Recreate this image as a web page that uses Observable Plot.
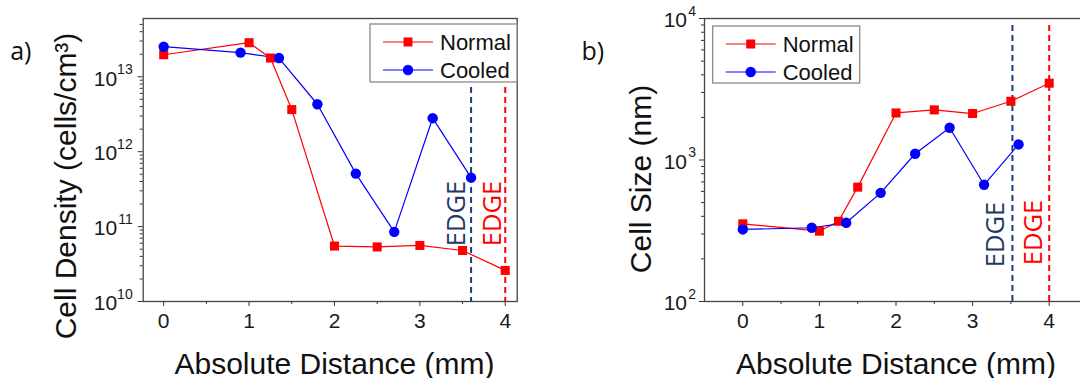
<!DOCTYPE html>
<html>
<head>
<meta charset="utf-8">
<script src="https://cdn.jsdelivr.net/npm/d3@7"></script>
<script src="https://cdn.jsdelivr.net/npm/@observablehq/plot@0.6"></script>
<style>
  html, body { margin: 0; padding: 0; background: #fff; }
  #wrap { position: relative; width: 1080px; height: 378px; overflow: hidden; }
  #wrap svg { position: absolute; top: 0; max-width: none !important; }
</style>
</head>
<body>
<div id="wrap"></div>
<script>
// Sampling positions (mm from centre)
const distNormal = [0, 1, 1.25, 1.5, 2, 2.5, 3, 3.5, 4];
const distCooled = [0, 0.9, 1.35, 1.8, 2.25, 2.7, 3.15, 3.6];

// Panel a) cell density (cells/cm^3)
const densityNormal = [1.97e13, 2.85e13, 1.78e13, 3.65e12, 5.5e10, 5.35e10, 5.6e10, 4.8e10, 2.6e10];
const densityCooled = [2.52e13, 2.1e13, 1.78e13, 4.3e12, 5.1e11, 8.5e10, 2.8e12, 4.5e11];

// Panel b) cell size (nm)
const sizeNormal = [354, 314, 369, 643, 2150, 2260, 2130, 2600, 3490];
const sizeCooled = [323, 332, 360, 586, 1107, 1690, 668, 1288];

// Sample edges (mm)
const edgeCooledA = 3.6, edgeNormalA = 4.0;
const edgeCooledB = 3.52, edgeNormalB = 4.0;

// Axis ticks and labels
const xTicks = [0, 1, 2, 3, 4];
const xTickLabels = ["0", "1", "2", "3", "4"];
const densityTicks = [1e10, 1e11, 1e12, 1e13];
const sizeTicks = [1e2, 1e3, 1e4];
const seriesNames = ["Normal", "Cooled"];
const xTitle = "Absolute Distance (mm)";
const yTitleA = "Cell Density (cells/cm³)";
const yTitleB = "Cell Size (nm)";

const RED = "#ff0000", BLUE = "#0000ff", NAVY = "#1f3a78", EDGE_NAVY = "#1f3864";
const AXIS = "#333333";
const SANS = "Liberation Sans, Arial, sans-serif";
const EDGE_FONT = "Open Sans, sans-serif";

const rows = (xs, ys) => xs.map((x, i) => ({x, y: ys[i]}));

function minorLogTicks(lo, hi) {
  const out = [];
  for (let e = Math.floor(Math.log10(lo)); e < Math.ceil(Math.log10(hi)); e++) {
    for (let k = 2; k <= 9; k++) {
      const v = k * 10 ** e;
      if (v > lo && v < hi) out.push(v);
    }
  }
  return out;
}

function panel(cfg) {
  const {width, marginLeft, marginRight, yDomain, xDomain, yTicks, normal, cooled,
         edges, yTitle, tag, expDx, baseDx, yTitleDx, yTitleDy, xTitleDx, minorX, edgeInset} = cfg;
  return Plot.plot({
    width, height: 378,
    marginLeft, marginRight, marginTop: 18, marginBottom: 77,
    style: {fontFamily: SANS, background: "transparent", overflow: "visible"},
    x: {domain: xDomain},
    y: {type: "log", domain: yDomain},
    marks: [
      // dashed edge markers
      ...edges.map(e => Plot.ruleX([e.at], {x: d => d, stroke: e.line, strokeWidth: 2,
        strokeDasharray: "6,4", insetTop: edgeInset})),
      ...edges.map(e => Plot.text([e.at], {x: d => d, text: () => "EDGE", frameAnchor: "bottom",
        rotate: -90, textAnchor: "middle", lineAnchor: "bottom", dx: e.dx, dy: e.dy,
        fill: e.text, fontFamily: EDGE_FONT, fontSize: 25.5})),
      // series
      Plot.line(normal, {x: "x", y: "y", stroke: RED, strokeWidth: 1.2}),
      Plot.line(cooled, {x: "x", y: "y", stroke: BLUE, strokeWidth: 1.2}),
      Plot.dot(normal, {x: "x", y: "y", symbol: "square", r: 5.1, fill: RED, stroke: "none"}),
      Plot.dot(cooled, {x: "x", y: "y", symbol: "circle", r: 5.2, fill: BLUE, stroke: "none"}),
      // axes
      Plot.axisX(xTicks, {tickSize: 5, tickPadding: 7, fontSize: 21, stroke: AXIS, fill: "#1a1a1a",
        tickFormat: (d, i) => xTickLabels[i], label: null}),
      Plot.axisX(minorX, {tickSize: 3, stroke: AXIS, fill: "none", label: null}),
      Plot.axisY(yTicks, {tickSize: 5, stroke: AXIS, fill: "none", label: null}),
      Plot.axisY(minorLogTicks(yDomain[0], yDomain[1]), {tickSize: 3, stroke: AXIS, fill: "none", label: null}),
      Plot.text(yTicks, {y: d => d, text: () => "10", frameAnchor: "left", textAnchor: "end",
        lineAnchor: "middle", dx: baseDx, dy: 2, fontSize: 21, fill: "#1a1a1a"}),
      Plot.text(yTicks, {y: d => d, text: d => String(Math.round(Math.log10(d))), frameAnchor: "left",
        textAnchor: "end", lineAnchor: "middle", dx: expDx, dy: -7, fontSize: 14, fill: "#1a1a1a"}),
      Plot.frame({stroke: "#444", strokeWidth: 1.3}),
      // titles
      Plot.text([yTitle], {text: d => d, frameAnchor: "left", rotate: -90, textAnchor: "middle",
        lineAnchor: "bottom", dx: yTitleDx, dy: yTitleDy, fontSize: 30, fill: "#111"}),
      Plot.text([xTitle], {text: d => d, frameAnchor: "bottom", textAnchor: "middle",
        lineAnchor: "bottom", dx: xTitleDx, dy: 72, fontSize: 30, fill: "#111"}),
      Plot.text([tag], {text: d => d, frameAnchor: "top-left", textAnchor: "start",
        lineAnchor: "bottom", dx: cfg.tagDx, dy: 41, fontFamily: EDGE_FONT, fontSize: 25, fill: "#111"})
    ]
  });
}

// Boxed legend drawn into a panel's SVG
function legend(svg, box) {
  const g = d3.select(svg).append("g")
    .attr("font-family", SANS).attr("font-size", 22).attr("text-anchor", "start");
  g.append("rect").attr("x", box.x).attr("y", box.y).attr("width", box.w).attr("height", box.h)
    .attr("fill", "#fff").attr("stroke", "#8a8a8a").attr("stroke-width", 1.3);
  const items = [
    {name: seriesNames[0], color: RED, shape: "square"},
    {name: seriesNames[1], color: BLUE, shape: "circle"}
  ];
  items.forEach((it, i) => {
    const cy = box.y + 18 + i * 28;
    g.append("line").attr("x1", box.x + 13).attr("x2", box.x + 63).attr("y1", cy).attr("y2", cy)
      .attr("stroke", it.color).attr("stroke-width", 1.2);
    if (it.shape === "square") {
      g.append("rect").attr("x", box.x + 38 - 4.5).attr("y", cy - 4.5)
        .attr("width", 9).attr("height", 9).attr("fill", it.color);
    } else {
      g.append("circle").attr("cx", box.x + 38).attr("cy", cy).attr("r", 5.2).attr("fill", it.color);
    }
    g.append("text").attr("x", box.x + 70).attr("y", cy).attr("dy", "0.36em")
      .attr("text-anchor", "start").attr("fill", "#111").text(it.name);
  });
}

const wrap = document.getElementById("wrap");

const a = panel({
  width: 540, marginLeft: 142.7, marginRight: 23.3,
  xDomain: [-0.24, 4.14], yDomain: [1e10, 6e13], yTicks: densityTicks,
  normal: rows(distNormal, densityNormal), cooled: rows(distCooled, densityCooled),
  minorX: [0.5, 1.5, 2.5, 3.5],
  edgeInset: 69,
  edges: [
    {at: edgeCooledA, line: NAVY, text: EDGE_NAVY, dx: -6, dy: -88},
    {at: edgeNormalA, line: RED, text: RED, dx: -4.5, dy: -88}
  ],
  yTitle: yTitleA, yTitleDx: -67, yTitleDy: 26, xTitleDx: 4.3,
  baseDx: -26, expDx: -10.5, tag: "a)", tagDx: -133
});
a.style.left = "0px";
wrap.appendChild(a);
legend(a, {x: 370, y: 24, w: 147, h: 58});

const b = panel({
  width: 560, marginLeft: 164, marginRight: 13,
  xDomain: [-0.5, 4.5], yDomain: [1e2, 1e4], yTicks: sizeTicks,
  normal: rows(distNormal, sizeNormal), cooled: rows(distCooled, sizeCooled),
  minorX: [0.5, 1.5, 2.5, 3.5],
  edgeInset: 7,
  edges: [
    {at: edgeCooledB, line: NAVY, text: EDGE_NAVY, dx: -8.5, dy: -67},
    {at: edgeNormalB, line: RED, text: RED, dx: -7, dy: -69}
  ],
  yTitle: yTitleB, yTitleDx: -54, yTitleDy: 19, xTitleDx: 0,
  baseDx: -17.5, expDx: -8.5, tag: "b)", tagDx: -123
});
b.style.left = "540px";
wrap.appendChild(b);
legend(b, {x: 172.7, y: 26, w: 147, h: 57});
</script>
</body>
</html>
